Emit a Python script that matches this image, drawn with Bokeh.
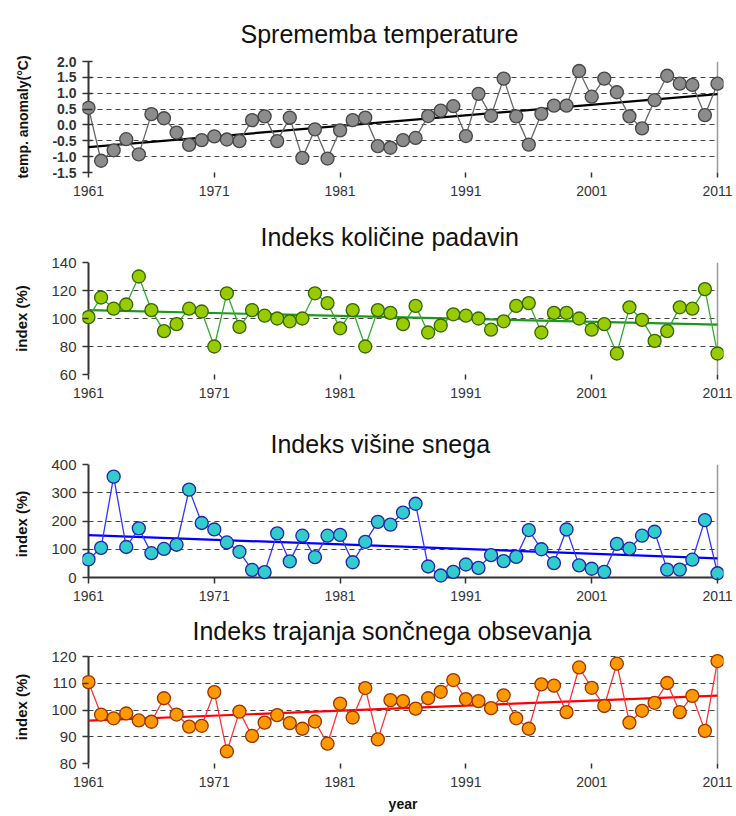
from bokeh.plotting import figure
from bokeh.layouts import column
from bokeh.models import Range1d, FixedTicker, NumeralTickFormatter, Grid
from bokeh.embed import file_html
from bokeh.resources import INLINE

years = list(range(1961, 2012))

temp = [0.54, -1.13, -0.80, -0.45, -0.93, 0.34, 0.21, -0.24, -0.63, -0.48,
        -0.36, -0.46, -0.51, 0.15, 0.27, -0.51, 0.23, -1.04, -0.14, -1.06,
        -0.17, 0.15, 0.23, -0.67, -0.72, -0.48, -0.41, 0.28, 0.45, 0.59,
        -0.35, 0.98, 0.29, 1.46, 0.27, -0.62, 0.35, 0.61, 0.61, 1.70,
        0.89, 1.46, 1.03, 0.27, -0.11, 0.78, 1.55, 1.30, 1.26, 0.31, 1.30]

precip = [101, 115, 107, 110, 130, 106, 91, 96, 107, 105,
          80, 118, 94, 106, 102, 100, 98, 100, 118, 111,
          93, 106, 80, 106, 104, 96, 109, 90, 95, 103,
          102, 100, 92, 98, 109, 111, 90, 104, 104, 100,
          92, 96, 75, 108, 99, 84, 91, 108, 107, 121, 75]

snow = [64, 105, 357, 108, 174, 86, 101, 116, 311, 193,
        170, 124, 91, 27, 19, 156, 57, 148, 72, 148,
        151, 54, 126, 197, 187, 230, 261, 39, 7, 20,
        46, 34, 79, 58, 73, 168, 100, 51, 170, 43,
        31, 20, 119, 102, 148, 162, 28, 28, 63, 203, 15]

sun = [110.4, 98.3, 96.9, 98.7, 96.1, 95.6, 104.4, 98.3, 93.8, 94.1,
       106.7, 84.5, 99.4, 90.3, 95.3, 98.1, 95.1, 93.0, 95.7, 87.4,
       102.4, 97.2, 108.2, 89.0, 103.7, 103.3, 100.5, 104.4, 106.8, 111.2,
       104.1, 103.3, 100.7, 105.5, 96.9, 93.0, 109.6, 109.1, 99.2, 115.9,
       108.3, 101.5, 117.3, 95.3, 99.7, 102.7, 110.1, 99.2, 105.3, 92.2, 118.3]

trend_years = [1961, 2011]
trend_temp = [-0.70, 0.97]
trend_precip = [106.0, 95.6]
trend_snow = [150, 68]
trend_sun = [96.0, 105.4]

x_ticks = [1961, 1971, 1981, 1991, 2001, 2011]
titles = ["Sprememba temperature", "Indeks količine padavin",
          "Indeks višine snega", "Indeks trajanja sončnega obsevanja"]
ylabels = ["temp. anomaly(°C)", "index (%)", "index (%)", "index (%)"]
xlabel = "year"
yticks_temp = [-1.5, -1.0, -0.5, 0.0, 0.5, 1.0, 1.5, 2.0]
yticks_precip = [60, 80, 100, 120, 140]
yticks_snow = [0, 100, 200, 300, 400]
yticks_sun = [80, 90, 100, 110, 120]
FONT = "Liberation Sans"

PAD = 6          # px of room left/right of the axes box so edge markers are not clipped
LEFT = 88        # x of the 1961 axis
RIGHT = 717      # x of 2011
XTICK = 5        # length of x tick marks below the axis
XLABEL_GAP = 13  # axis line to top of x tick labels


def edge(p, dim, loc, bounds, color, width):
    p.add_layout(Grid(dimension=dim, ticker=FixedTicker(ticks=[loc]), cross_bounds=bounds,
                      grid_line_color=color, grid_line_width=width))


def panel(title, ylabel, vals, trend, yticks, fig_top, fig_h, inner_top, inner_bottom,
          pad_top, pad_bottom, title_left, title_standoff, line_color, fill, outline,
          trend_color, bold_ticks=False, fmt=None, show_xlabel=False):
    ymin, ymax = yticks[0], yticks[-1]
    x0, x1 = x_ticks[0], x_ticks[-1]
    inner_h = inner_bottom - inner_top
    upp = (ymax - ymin) / inner_h
    xpad = (x1 - x0) * PAD / (RIGHT - LEFT)
    top_b = inner_top - fig_top - pad_top
    bot_b = fig_top + fig_h - inner_bottom - pad_bottom
    frame_left = LEFT - PAD
    frame_right = RIGHT + PAD

    p = figure(width=736, height=fig_h, output_backend="svg", toolbar_location=None,
               x_range=Range1d(x0 - xpad, x1 + xpad),
               y_range=Range1d(ymin - pad_bottom * upp, ymax + pad_top * upp),
               min_border_left=frame_left, min_border_right=736 - frame_right,
               min_border_top=top_b, min_border_bottom=bot_b)
    p.background_fill_color = "white"
    p.border_fill_color = "white"
    p.outline_line_color = None

    p.title.text = title
    p.title.align = "left"
    p.title.offset = title_left - frame_left
    p.title.text_font = FONT
    p.title.text_font_size = "25px"
    p.title.text_font_style = "normal"
    p.title.text_color = "#111111"
    p.title.standoff = title_standoff

    p.xgrid.visible = False
    p.ygrid.ticker = FixedTicker(ticks=yticks[1:])
    p.ygrid.grid_line_color = "#444444"
    p.ygrid.grid_line_dash = "5 4"
    p.ygrid.grid_line_width = 1.2
    p.ygrid.cross_bounds = (x0, x1)
    edge(p, 0, x1, (ymin, ymax), "#9a9a9a", 1.5)
    edge(p, 0, x0, (ymin, ymax), "#333333", 2)
    edge(p, 1, ymin, (x0, x1), "#333333", 2)

    p.xaxis.ticker = FixedTicker(ticks=x_ticks)
    p.yaxis.ticker = FixedTicker(ticks=yticks)
    if fmt:
        p.yaxis.formatter = NumeralTickFormatter(format=fmt)
    for ax in (p.xaxis[0], p.yaxis[0]):
        ax.axis_line_color = None
        ax.major_tick_line_color = "#333333"
        ax.major_tick_line_width = 1.5
        ax.minor_tick_line_color = None
        ax.major_label_text_font = FONT
        ax.major_label_text_color = "#333333"
    tick_out = max(XTICK - pad_bottom, 0)
    p.xaxis.major_tick_in = pad_bottom
    p.xaxis.major_tick_out = tick_out
    p.xaxis.major_label_text_font_size = "14px"
    p.xaxis.major_label_standoff = XLABEL_GAP - pad_bottom - tick_out
    p.yaxis.major_tick_in = PAD + (4 if bold_ticks else 0)
    p.yaxis.major_tick_out = 0
    p.yaxis.major_label_standoff = 6
    p.yaxis.major_label_text_font_size = "14px" if bold_ticks else "15px"
    p.yaxis.major_label_text_font_style = "bold" if bold_ticks else "normal"
    p.yaxis.axis_label = ylabel
    p.yaxis.axis_label_text_font = FONT
    p.yaxis.axis_label_text_font_style = "bold"
    p.yaxis.axis_label_text_font_size = "14px" if bold_ticks else "15px"
    p.yaxis.axis_label_text_color = "#111111"
    p.yaxis.axis_label_standoff = 18
    if show_xlabel:
        p.xaxis.axis_label = xlabel
        p.xaxis.axis_label_text_font = FONT
        p.xaxis.axis_label_text_font_style = "bold"
        p.xaxis.axis_label_text_font_size = "14px"
        p.xaxis.axis_label_text_color = "#111111"
        p.xaxis.axis_label_standoff = 6

    p.line(trend_years, trend, line_color=trend_color, line_width=2.2)
    p.line(years, vals, line_color=line_color, line_width=1.3)
    p.scatter(years, vals, size=13, fill_color=fill, line_color=outline, line_width=1.3)
    return p


p1 = panel(titles[0], ylabels[0], temp, trend_temp, yticks_temp, 0, 202, 61, 172, 0, 0, 240, 28,
           "#666666", "#8c8c8c", "#454545", "#000000", bold_ticks=True, fmt="0.0")
p2 = panel(titles[1], ylabels[1], precip, trend_precip, yticks_precip, 202, 208, 262, 374, 0, 0, 260, 24,
           "#33aa33", "#99cc00", "#336600", "#1a9a1a")
p3 = panel(titles[2], ylabels[2], snow, trend_snow, yticks_snow, 410, 197, 464, 577, 0, 6, 270, 14,
           "#3333ff", "#33cccc", "#2222aa", "#0000ff")
p4 = panel(titles[3], ylabels[3], sun, trend_sun, yticks_sun, 607, 209, 656, 763, 6, 0, 192, 12,
           "#ff3333", "#ff9900", "#993300", "#ff0000", show_xlabel=True)

layout = column(p1, p2, p3, p4, spacing=0)
open("out.html", "w").write(file_html(layout, INLINE))
